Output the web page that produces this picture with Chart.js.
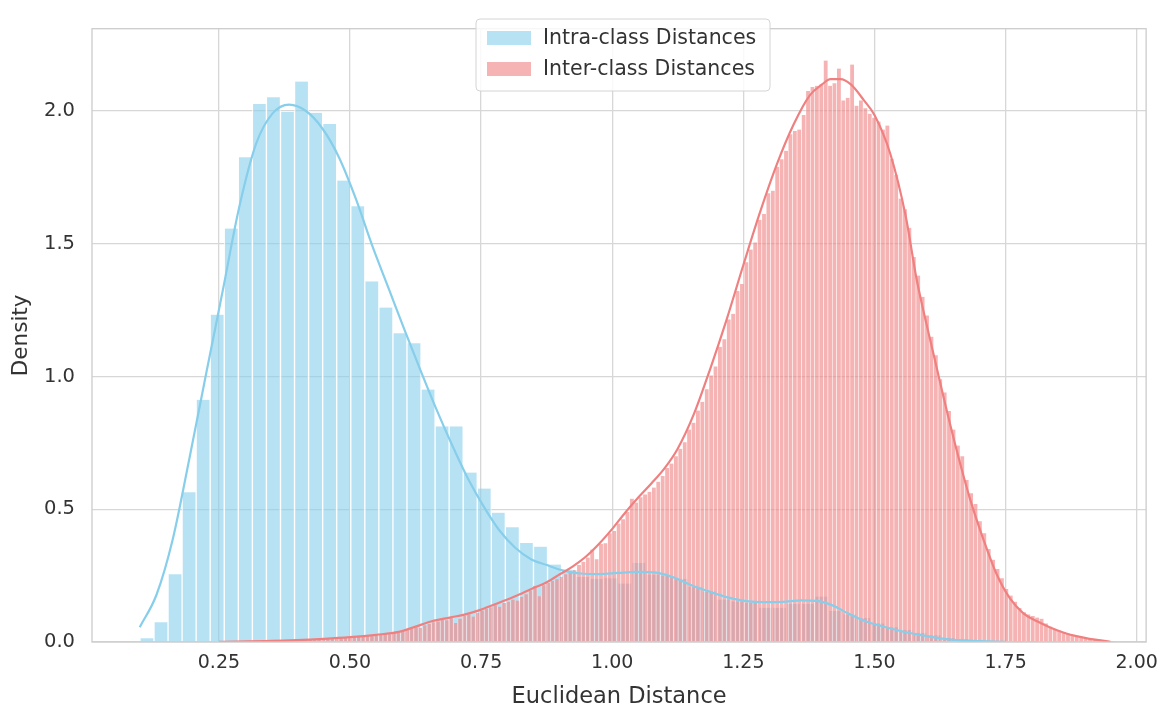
<!DOCTYPE html>
<html>
<head>
<meta charset="utf-8">
<script src="https://cdn.jsdelivr.net/npm/chart.js@4.4.0/dist/chart.umd.min.js"></script>
<style>
  html, body { margin: 0; padding: 0; background: #fff; }
  #wrap { width: 1168px; height: 713px; }
</style>
</head>
<body>
<div id="wrap"><canvas id="distChart" width="1168" height="713"></canvas></div>
<script>
// histogram bins (left edge + width)
const intraBinStart = 0.0994;
const intraBinWidth = 0.0268;
const interBinStart = 0.252;
const interBinWidth = 0.0084;

// intra-class histogram density, one value per bin
const intraDensity = [
  0.014, 0.074, 0.255, 0.564, 0.912, 1.233, 1.557, 1.826, 2.026, 2.052,
  1.996, 2.111, 1.993, 1.951, 1.738, 1.641, 1.358, 1.260, 1.163, 1.125,
  0.951, 0.812, 0.812, 0.638, 0.578, 0.487, 0.432, 0.373, 0.359, 0.292,
  0.272, 0.245, 0.238, 0.240, 0.220, 0.298, 0.254, 0.250, 0.238, 0.208,
  0.190, 0.160, 0.153, 0.147, 0.129, 0.129, 0.143, 0.143, 0.171, 0.117,
  0.104, 0.090, 0.070, 0.056, 0.045, 0.035, 0.025, 0.015, 0.010, 0.006,
  0.004, 0.002, 0.001, 0.001
];

// inter-class histogram density, one value per bin
const interDensity = [
  0.001, 0.001, 0.002, 0.001, 0.002, 0.002, 0.003, 0.002, 0.003, 0.003,
  0.004, 0.003, 0.005, 0.004, 0.006, 0.005, 0.007, 0.006, 0.008, 0.009,
  0.010, 0.009, 0.012, 0.011, 0.013, 0.015, 0.014, 0.016, 0.018, 0.017,
  0.019, 0.021, 0.020, 0.023, 0.025, 0.024, 0.028, 0.030, 0.029, 0.034,
  0.035, 0.041, 0.046, 0.050, 0.056, 0.054, 0.063, 0.068, 0.074, 0.077,
  0.084, 0.082, 0.090, 0.072, 0.088, 0.099, 0.104, 0.096, 0.110, 0.118,
  0.126, 0.131, 0.138, 0.133, 0.147, 0.152, 0.160, 0.156, 0.170, 0.180,
  0.194, 0.212, 0.172, 0.214, 0.222, 0.230, 0.236, 0.246, 0.255, 0.266,
  0.270, 0.290, 0.302, 0.318, 0.348, 0.312, 0.370, 0.372, 0.410, 0.418,
  0.446, 0.462, 0.490, 0.540, 0.525, 0.545, 0.556, 0.566, 0.582, 0.604,
  0.625, 0.655, 0.672, 0.700, 0.728, 0.752, 0.800, 0.826, 0.872, 0.905,
  0.952, 1.004, 1.038, 1.112, 1.140, 1.215, 1.236, 1.322, 1.348, 1.430,
  1.478, 1.505, 1.590, 1.612, 1.690, 1.700, 1.790, 1.818, 1.850, 1.912,
  1.925, 1.930, 1.985, 2.075, 2.090, 2.095, 2.100, 2.190, 2.095, 2.105,
  2.160, 2.040, 2.050, 2.175, 2.020, 2.040, 2.010, 1.990, 1.975, 1.960,
  1.930, 1.945, 1.820, 1.760, 1.670, 1.630, 1.560, 1.450, 1.380, 1.300,
  1.230, 1.150, 1.080, 0.990, 0.940, 0.870, 0.800, 0.740, 0.700, 0.610,
  0.560, 0.520, 0.455, 0.410, 0.350, 0.310, 0.275, 0.240, 0.200, 0.175,
  0.152, 0.128, 0.112, 0.104, 0.098, 0.092, 0.088, 0.070, 0.058, 0.050,
  0.042, 0.038, 0.032, 0.027, 0.022, 0.020, 0.015, 0.012, 0.009, 0.006,
  0.004, 0.002, 0.001
];

// KDE curves, sampled along the drawn line
const intraKdeX = [
  0.099, 0.131, 0.162, 0.194, 0.226, 0.257, 0.289, 0.321, 0.352, 0.384,
  0.416, 0.447, 0.479, 0.511, 0.542, 0.574, 0.605, 0.635, 0.665, 0.695,
  0.725, 0.755, 0.785, 0.815, 0.845, 0.875, 0.905, 0.940, 0.975, 1.010,
  1.045, 1.080, 1.115, 1.150, 1.185, 1.220, 1.255, 1.290, 1.325, 1.360,
  1.390, 1.420, 1.450, 1.480, 1.510, 1.540, 1.570, 1.600, 1.630, 1.660,
  1.700, 1.750
];
const intraKdeY = [
  0.056, 0.178, 0.387, 0.694, 1.014, 1.320, 1.640, 1.877, 1.990, 2.024,
  2.000, 1.935, 1.825, 1.670, 1.495, 1.330, 1.170, 1.020, 0.875, 0.740,
  0.615, 0.510, 0.420, 0.355, 0.312, 0.290, 0.270, 0.258, 0.256, 0.260,
  0.264, 0.262, 0.245, 0.215, 0.190, 0.168, 0.154, 0.150, 0.151, 0.157,
  0.155, 0.138, 0.107, 0.080, 0.062, 0.046, 0.033, 0.022, 0.013, 0.007,
  0.003, 0.001
];
const interKdeX = [
  0.250, 0.350, 0.450, 0.500, 0.550, 0.593, 0.625, 0.656, 0.690, 0.720,
  0.750, 0.783, 0.815, 0.846, 0.875, 0.900, 0.925, 0.950, 0.975, 1.000,
  1.025, 1.050, 1.075, 1.100, 1.124, 1.156, 1.187, 1.219, 1.250, 1.282,
  1.314, 1.346, 1.377, 1.400, 1.416, 1.435, 1.455, 1.480, 1.500, 1.530,
  1.560, 1.580, 1.606, 1.632, 1.657, 1.682, 1.708, 1.733, 1.758, 1.783,
  1.810, 1.835, 1.860, 1.885, 1.910, 1.935, 1.950
];
const interKdeY = [
  0.001, 0.004, 0.012, 0.018, 0.027, 0.038, 0.058, 0.078, 0.092, 0.104,
  0.122, 0.147, 0.172, 0.200, 0.225, 0.255, 0.285, 0.322, 0.370, 0.426,
  0.488, 0.545, 0.598, 0.655, 0.725, 0.860, 1.030, 1.220, 1.420, 1.620,
  1.800, 1.950, 2.060, 2.100, 2.120, 2.120, 2.100, 2.040, 1.985, 1.840,
  1.600, 1.370, 1.140, 0.920, 0.720, 0.540, 0.385, 0.255, 0.165, 0.110,
  0.078, 0.055, 0.036, 0.022, 0.012, 0.005, 0.001
];

const xTickValues = [0.25, 0.5, 0.75, 1.0, 1.25, 1.5, 1.75, 2.0];
const yTickValues = [0, 0.5, 1.0, 1.5, 2.0];
const labels = ['Intra-class Distances', 'Inter-class Distances'];

const xMin = 0.008, xMax = 2.018;
const yMax = 2.31;

const TEXT = '#333333';
const GRID = '#d7d7d7';
const BLUE_FILL = 'rgba(135, 206, 235, 0.6)';
const RED_FILL = 'rgba(240, 128, 128, 0.6)';

Chart.defaults.font.family = "'DejaVu Sans', sans-serif";
Chart.defaults.color = TEXT;

function toBars(start, width, values) {
  return values.map((d, i) => ({ x: start + (i + 0.5) * width, y: d }));
}
function toLine(xs, ys) {
  return xs.map((x, i) => ({ x, y: ys[i] }));
}

// frame round the plot area, on top of the bars like matplotlib spines
const framePlugin = {
  id: 'frame',
  afterDatasetsDraw(chart) {
    const { ctx, chartArea: a } = chart;
    ctx.save();
    ctx.strokeStyle = '#cccccc';
    ctx.lineWidth = 1.3;
    ctx.strokeRect(a.left, a.top, a.right - a.left, a.bottom - a.top);
    ctx.restore();
  }
};

// legend box inside the plot, two rows
const boxLegendPlugin = {
  id: 'boxLegend',
  afterDraw(chart) {
    const { ctx } = chart;
    const bx = 476, by = 19, bw = 294, bh = 72;
    ctx.save();
    ctx.beginPath();
    ctx.roundRect(bx, by, bw, bh, 4);
    ctx.fillStyle = 'rgba(255,255,255,0.85)';
    ctx.fill();
    ctx.strokeStyle = '#d4d4d4';
    ctx.lineWidth = 1;
    ctx.stroke();
    const rows = [
      { label: chart.data.datasets[0].label, color: chart.data.datasets[0].backgroundColor, cy: 38 },
      { label: chart.data.datasets[1].label, color: chart.data.datasets[1].backgroundColor, cy: 69 }
    ];
    ctx.font = "20.5px 'DejaVu Sans', sans-serif";
    ctx.textBaseline = 'middle';
    rows.forEach(r => {
      ctx.fillStyle = r.color;
      ctx.fillRect(487, r.cy - 7, 44, 14);
      ctx.fillStyle = TEXT;
      ctx.fillText(r.label, 543, r.cy + 1);
    });
    ctx.restore();
  }
};

const ctx = document.getElementById('distChart').getContext('2d');
new Chart(ctx, {
  type: 'bar',
  data: {
    datasets: [
      {
        label: labels[0],
        data: toBars(intraBinStart, intraBinWidth, intraDensity),
        backgroundColor: BLUE_FILL,
        borderColor: 'rgba(255,255,255,0.75)',
        borderWidth: { left: 1, right: 1, top: 0, bottom: 0 },
        borderSkipped: false,
        grouped: false,
        barPercentage: 1,
        categoryPercentage: 1,
        xAxisID: 'x',
        order: 4
      },
      {
        label: labels[1],
        data: toBars(interBinStart, interBinWidth, interDensity),
        backgroundColor: RED_FILL,
        borderColor: 'rgba(255,255,255,0.55)',
        borderWidth: { left: 0.6, right: 0.6, top: 0, bottom: 0 },
        borderSkipped: false,
        grouped: false,
        barPercentage: 1,
        categoryPercentage: 1,
        xAxisID: 'xInter',
        order: 3
      },
      {
        type: 'line',
        label: 'intra kde',
        data: toLine(intraKdeX, intraKdeY),
        borderColor: '#87ceeb',
        borderWidth: 2.2,
        pointRadius: 0,
        cubicInterpolationMode: 'monotone',
        xAxisID: 'x',
        order: 2
      },
      {
        type: 'line',
        label: 'inter kde',
        data: toLine(interKdeX, interKdeY),
        borderColor: '#f08080',
        borderWidth: 2.2,
        pointRadius: 0,
        cubicInterpolationMode: 'monotone',
        xAxisID: 'x',
        order: 1
      }
    ]
  },
  options: {
    responsive: false,
    animation: false,
    layout: { padding: { top: 8, right: 18, left: 0, bottom: 0 } },
    plugins: {
      legend: { display: false },
      tooltip: { enabled: false }
    },
    scales: {
      x: {
        type: 'linear',
        min: xMin,
        max: xMax,
        offset: false,
        afterBuildTicks: s => { s.ticks = xTickValues.map(v => ({ value: v })); },
        afterFit: s => { s.height = 71; },
        ticks: {
          callback: v => Number(v).toFixed(2),
          font: { size: 19 },
          color: TEXT,
          padding: 10,
          maxRotation: 0,
          autoSkip: false
        },
        grid: { color: GRID, lineWidth: 1.3, drawTicks: false, offset: false },
        border: { display: false },
        title: {
          display: true,
          text: 'Euclidean Distance',
          font: { size: 22.5 },
          color: TEXT,
          padding: { top: 0, bottom: 2 }
        }
      },
      xInter: {
        type: 'linear',
        display: false,
        min: xMin,
        max: xMax,
        offset: false,
        grid: { offset: false }
      },
      y: {
        min: 0,
        max: yMax,
        afterBuildTicks: s => { s.ticks = yTickValues.map(v => ({ value: v })); },
        afterFit: s => { s.width = 92; },
        ticks: {
          callback: v => Number(v).toFixed(1),
          font: { size: 19.5 },
          color: TEXT,
          padding: 17
        },
        grid: { color: GRID, lineWidth: 1.3, drawTicks: false },
        border: { display: false },
        title: {
          display: true,
          text: 'Density',
          font: { size: 21.5 },
          color: TEXT,
          padding: { top: 9, bottom: 0 }
        }
      }
    }
  },
  plugins: [framePlugin, boxLegendPlugin]
});
</script>
</body>
</html>
